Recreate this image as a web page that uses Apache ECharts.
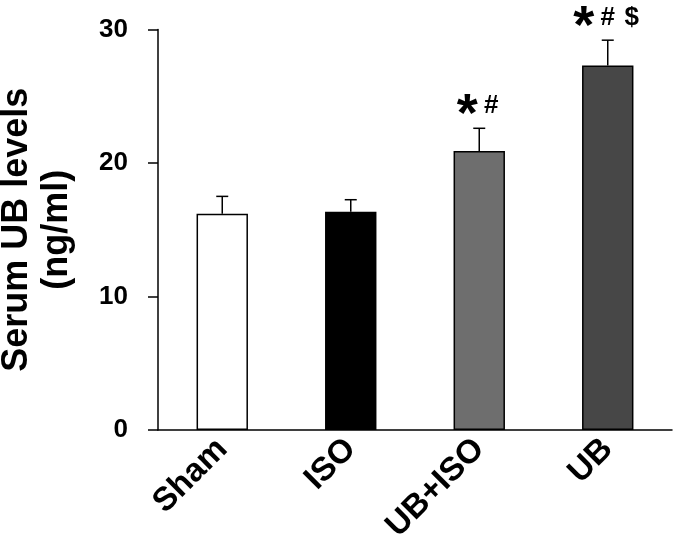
<!DOCTYPE html>
<html>
<head>
<meta charset="utf-8">
<script src="https://cdn.jsdelivr.net/npm/echarts@6/dist/echarts.min.js"></script>
<style>
html,body{margin:0;padding:0;background:#fff;}
#chart{width:680px;height:550px;}
</style>
</head>
<body>
<div id="chart"></div>
<script>
var categories = ['Sham', 'ISO', 'UB+ISO', 'UB'];
var means = [16.2, 16.35, 20.9, 27.3];
var errors = [1.3, 0.9, 1.7, 1.9];
var barColors = ['#ffffff', '#000000', '#6e6e6e', '#474747'];
var sigMarks = [[], [], ['*', '#'], ['*', '#', '$']];
var yTicks = [0, 10, 20, 30];

var FONT = '"Liberation Sans", Arial, sans-serif';

var chart = echarts.init(document.getElementById('chart'));

var barData = means.map(function (v, i) {
  return { value: v, itemStyle: { color: barColors[i] } };
});
var errData = means.map(function (v, i) { return [i, v, errors[i]]; });

chart.setOption({
  animation: false,
  backgroundColor: '#fff',
  grid: { left: 158, right: 8, top: 29.5, bottom: 120, containLabel: false, outerBoundsMode: 'none' },
  xAxis: {
    type: 'category',
    data: categories,
    axisLine: { lineStyle: { color: '#000', width: 1.5 } },
    axisTick: { show: false },
    axisLabel: {
      rotate: 45, color: '#000', fontFamily: FONT, fontWeight: 'bold',
      fontSize: 33, margin: 14, interval: 0
    }
  },
  yAxis: {
    type: 'value', min: 0, max: 30, interval: 10,
    name: 'Serum UB levels\n(ng/ml)',
    nameLocation: 'middle', nameRotate: 90, nameGap: 81,
    nameTextStyle: { color: '#000', fontFamily: FONT, fontWeight: 'bold', fontSize: 36, lineHeight: 40 },
    axisLine: { show: true, lineStyle: { color: '#000', width: 1.5 } },
    axisTick: { show: true, length: 10, inside: false, lineStyle: { color: '#000', width: 1.5 } },
    splitLine: { show: false },
    axisLabel: {
      color: '#000', fontFamily: FONT, fontWeight: 'bold', fontSize: 26, margin: 30,
      formatter: function (v) { return yTicks.indexOf(v) >= 0 ? String(v) : ''; }
    }
  },
  series: [
    {
      type: 'bar',
      data: barData,
      barWidth: '40%',
      itemStyle: { borderColor: '#000', borderWidth: 1.5 },
      z: 2
    },
    {
      type: 'custom',
      data: errData,
      z: 3,
      renderItem: function (params, api) {
        var i = api.value(0);
        var top = api.coord([i, api.value(1) + api.value(2)]);
        var base = api.coord([i, api.value(1)]);
        var x = top[0];
        var children = [
          { type: 'line', shape: { x1: x, y1: base[1], x2: x, y2: top[1] }, style: { stroke: '#000', lineWidth: 1.5 } },
          { type: 'line', shape: { x1: x - 6, y1: top[1], x2: x + 6, y2: top[1] }, style: { stroke: '#000', lineWidth: 1.5 } }
        ];
        var marks = sigMarks[i];
        var n = marks.length;
        var ty = top[1] - 24;
        marks.forEach(function (m, k) {
          var cx = x + (k - (n - 1) / 2) * 24;
          var isStar = m === '*';
          children.push({
            type: 'text',
            style: {
              text: m, x: cx, y: isStar ? ty + 12 : ty + 2,
              fontSize: isStar ? 54 : 26, fontWeight: 'bold', fontFamily: FONT,
              fill: '#000', align: 'center', verticalAlign: 'middle'
            }
          });
        });
        return { type: 'group', children: children };
      }
    }
  ]
});
</script>
</body>
</html>
